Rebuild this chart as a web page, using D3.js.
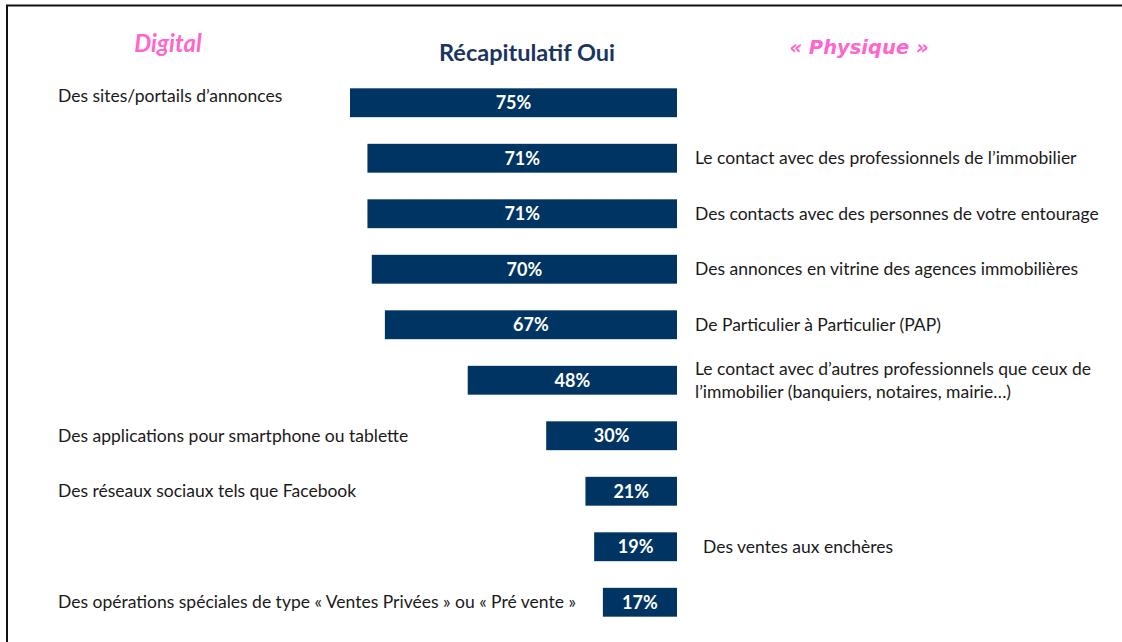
<!DOCTYPE html>
<html>
<head>
<meta charset="utf-8">
<script src="https://cdn.jsdelivr.net/npm/d3@7"></script>
<style>
  body { margin: 0; background: #fff; }
  svg { display: block; font-family: Lato, "Open Sans", sans-serif; }
</style>
</head>
<body>
<div id="chart"></div>
<script>
const width = 1122, height = 642;

// data
const labels = [
  ['Des sites/portails d\u2019annonces'],
  ['Le contact avec des professionnels de l\u2019immobilier'],
  ['Des contacts avec des personnes de votre entourage'],
  ['Des annonces en vitrine des agences immobili\u00e8res'],
  ['De Particulier \u00e0 Particulier (PAP)'],
  ['Le contact avec d\u2019autres professionnels que ceux de', 'l\u2019immobilier (banquiers, notaires, mairie\u2026)'],
  ['Des applications pour smartphone ou tablette'],
  ['Des r\u00e9seaux sociaux tels que Facebook'],
  ['Des ventes aux ench\u00e8res'],
  ['Des op\u00e9rations sp\u00e9ciales de type \u00ab Ventes Priv\u00e9es \u00bb ou \u00ab Pr\u00e9 vente \u00bb']
]
const values = [75, 71, 71, 70, 67, 48, 30, 21, 19, 17]
const sides = ['digital', 'physique', 'physique', 'physique', 'physique', 'physique', 'digital', 'digital', 'physique', 'digital']

const rows = d3.range(values.length)

const navy = '#003462', pink = '#ff66cc'

let svg = d3.select('#chart').append('svg')
.attr('width', width)
.attr('height', height)

// frame (top and left only)
svg.append('line').attr('x1', 6).attr('x2', width).attr('y1', 5.5).attr('y2', 5.5)
.attr('stroke', '#111').attr('stroke-width', 2)
svg.append('line').attr('x1', 7).attr('x2', 7).attr('y1', 5).attr('y2', height)
.attr('stroke', '#111').attr('stroke-width', 2)

const barRight = 677

let xScale = d3.scaleLinear()
.domain([0, 75])
.range([0, 327])

let yScale = d3.scaleBand()
.domain(rows)
.range([75, 630])
.paddingInner(0.48)
.paddingOuter(0.24)

// headers
svg.append('text')
.attr('x', 168).attr('y', 52)
.attr('text-anchor', 'middle')
.style('font-size', '24px').style('font-weight', 700).style('font-style', 'italic')
.attr('fill', pink)
.text('Digital')

svg.append('text')
.attr('x', 527).attr('y', 61)
.attr('text-anchor', 'middle')
.style('font-size', '23.5px').style('font-weight', 700)
.attr('fill', '#1b3560')
.text('R\u00e9capitulatif Oui')

svg.append('text')
.attr('x', 859).attr('y', 54)
.attr('text-anchor', 'middle')
.style('font-family', '"DejaVu Sans", sans-serif')
.style('font-size', '19.5px').style('font-weight', 700).style('font-style', 'italic')
.attr('fill', pink)
.text('\u00ab Physique \u00bb')

let bars = svg.append('g')

bars.selectAll('rect')
.data(rows)
.join('rect')
.attr('x', i => barRight - xScale(values[i]))
.attr('y', i => yScale(i))
.attr('width', i => xScale(values[i]))
.attr('height', yScale.bandwidth())
.attr('fill', navy)

bars.selectAll('text')
.data(rows)
.join('text')
.attr('x', i => barRight - xScale(values[i]) / 2)
.attr('y', i => yScale(i) + yScale.bandwidth() / 2)
.attr('dy', '0.36em')
.attr('text-anchor', 'middle')
.attr('fill', '#fff')
.style('font-size', '18px').style('font-weight', 700)
.text(i => values[i] + '%')

let cats = svg.append('g')
.style('font-size', '17.5px')
.attr('fill', '#1a1a1a')

rows.forEach(i => {
  let cy = yScale(i) + yScale.bandwidth() / 2
  let lines = labels[i]
  let isLeft = sides[i] === 'digital'
  let x = isLeft ? 58 : (i === 8 ? 703 : 695)
  let offset = i === 0 ? -7 : 0
  let t = cats.append('text')
  .attr('x', x)
  .attr('y', cy + offset - (lines.length - 1) * 11.5)
  lines.forEach((l, k) => {
    t.append('tspan')
    .attr('x', x)
    .attr('dy', k === 0 ? '0.35em' : 23)
    .text(l)
  })
})
</script>
</body>
</html>
